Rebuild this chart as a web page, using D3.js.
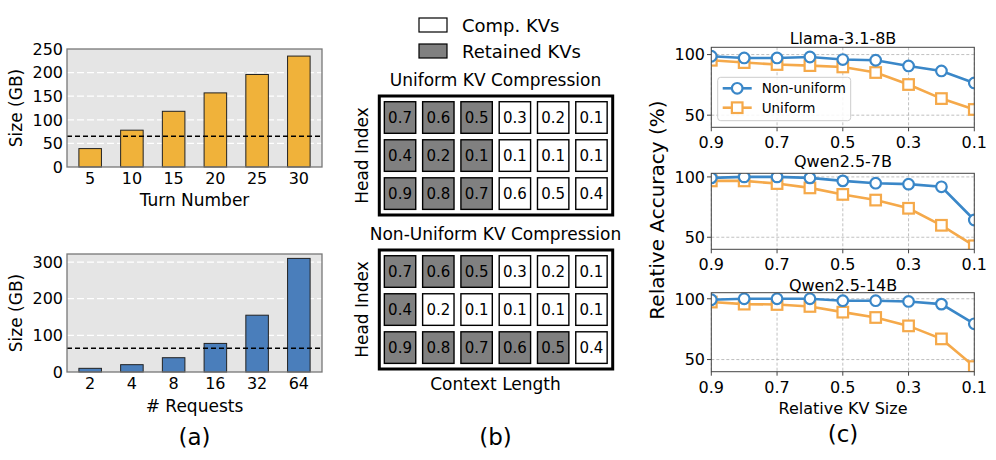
<!DOCTYPE html>
<html>
<head>
<meta charset="utf-8">
<script src="https://cdn.jsdelivr.net/npm/d3@7"></script>
<style>
  body { margin: 0; background: #fff; }
  text { font-family: "DejaVu Sans", sans-serif; fill: #000; }
</style>
</head>
<body>
<script>
// (a) memory footprint
var turns = [5, 10, 15, 20, 25, 30];
var turnSize = [39, 78, 118, 157, 196, 235];
var requests = [2, 4, 8, 16, 32, 64];
var requestSize = [10, 20, 39, 78, 155, 310];
var memLimit = 65;

// (b) head scores, same scores for both, number of retained cells per row differs
var headScores = [
  [0.7, 0.6, 0.5, 0.3, 0.2, 0.1],
  [0.4, 0.2, 0.1, 0.1, 0.1, 0.1],
  [0.9, 0.8, 0.7, 0.6, 0.5, 0.4]
];
var uniformKeep = [3, 3, 3];
var nonUniformKeep = [3, 1, 5];

// (c) accuracy
var kvSizes = [0.9, 0.8, 0.7, 0.6, 0.5, 0.4, 0.3, 0.2, 0.1];
var kvTicks = [0.9, 0.7, 0.5, 0.3, 0.1];
var models = ["Llama-3.1-8B", "Qwen2.5-7B", "Qwen2.5-14B"];
var nonUniformAcc = [
  [98.6, 97.2, 97.2, 98.0, 95.9, 95.3, 90.6, 86.5, 76.6],
  [99.2, 100, 100, 99.2, 96.7, 94.8, 94.0, 91.8, 64.3],
  [99.2, 100, 100, 100, 98.4, 98.4, 97.8, 95.6, 79.4]
];
var uniformAcc = [
  [95.3, 93.4, 91.8, 90.9, 89.8, 85.2, 75.3, 63.7, 54.7],
  [96.7, 96.7, 94.5, 90.9, 85.5, 80.8, 74.0, 59.9, 42.9],
  [97.3, 95.6, 95.3, 93.7, 89.0, 84.6, 77.7, 67.0, 44.2]
];
var accTop = [106, 103, 105];

var svg = d3.select("body").append("svg")
  .attr("width", 996).attr("height", 460);
var defs = svg.append("defs");

var label = (x, y, txt, size, rot) => {
  var t = svg.append("text")
    .attr("text-anchor", "middle")
    .style("font-size", size + "px")
    .text(txt);
  if (rot) t.attr("transform", "translate(" + x + "," + y + ") rotate(-90)");
  else t.attr("x", x).attr("y", y);
  return t;
};

// ---------- (a) ----------
var barPanel = (cats, vals, ymax, yticks, top, bottom, color, xlab, xlabY) => {
  var x = d3.scaleLinear().domain([-0.555, 5.555]).range([67, 322]);
  var y = d3.scaleLinear().domain([0, ymax]).range([bottom, top]);
  var g = svg.append("g");
  g.append("rect").attr("x", 67).attr("y", top)
    .attr("width", 255).attr("height", bottom - top).attr("fill", "#e5e5e5");
  g.selectAll(".grid").data(yticks.filter(d => d > 0 && y(d) > top + 2)).join("line")
    .attr("x1", 67).attr("x2", 322)
    .attr("y1", d => y(d)).attr("y2", d => y(d))
    .attr("stroke", "#fff").attr("stroke-width", 1.3).attr("stroke-dasharray", "7,3");
  g.selectAll(".bar").data(vals).join("rect")
    .attr("x", (d, i) => x(i - 0.27)).attr("width", x(0.27) - x(-0.27))
    .attr("y", d => y(d)).attr("height", d => bottom - y(d))
    .attr("fill", color).attr("stroke", "#222").attr("stroke-width", 1);
  g.append("line").attr("x1", 67).attr("x2", 322)
    .attr("y1", y(memLimit)).attr("y2", y(memLimit))
    .attr("stroke", "#000").attr("stroke-width", 1.5).attr("stroke-dasharray", "5,3");
  g.append("rect").attr("x", 67).attr("y", top)
    .attr("width", 255).attr("height", bottom - top)
    .attr("fill", "none").attr("stroke", "#777").attr("stroke-width", 1.3);
  g.selectAll(".yt").data(yticks).join("text")
    .attr("x", 63).attr("y", d => y(d)).attr("dy", "0.36em")
    .attr("text-anchor", "end").style("font-size", "16px").text(d => d);
  g.selectAll(".xt").data(cats).join("text")
    .attr("x", (d, i) => x(i)).attr("y", bottom + 17)
    .attr("text-anchor", "middle").style("font-size", "16px").text(d => d);
  label(22, (top + bottom) / 2, "Size (GB)", 17, true);
  label(194.5, xlabY, xlab, 17);
};

barPanel(turns, turnSize, 250, [0, 50, 100, 150, 200, 250], 49, 167, "#f0b23a", "Turn Number", 206);
barPanel(requests, requestSize, 322, [0, 100, 200, 300], 254, 372, "#4a7ebb", "# Requests", 412);
label(194.5, 445, "(a)", 23);

// ---------- (b) ----------
svg.append("rect").attr("x", 419).attr("y", 18).attr("width", 28).attr("height", 14)
  .attr("fill", "#fff").attr("stroke", "#000").attr("stroke-width", 1.2);
svg.append("rect").attr("x", 419).attr("y", 44).attr("width", 28).attr("height", 14)
  .attr("fill", "#808080").attr("stroke", "#000").attr("stroke-width", 1.2);
svg.append("text").attr("x", 462).attr("y", 32).style("font-size", "18px").text("Comp. KVs");
svg.append("text").attr("x", 462).attr("y", 58).style("font-size", "18px").text("Retained KVs");

var grid = (keep, top, title, titleY) => {
  var cx = d3.scaleBand().domain(d3.range(6)).range([380.9, 610.6])
    .paddingInner(0.18).paddingOuter(0.09);
  var cy = d3.scaleBand().domain(d3.range(3)).range([top + 2.3, top + 116.8])
    .paddingInner(0.17).paddingOuter(0.09);
  svg.append("rect").attr("x", 379.3).attr("y", top)
    .attr("width", 233.4).attr("height", 119)
    .attr("fill", "#fff").attr("stroke", "#000").attr("stroke-width", 3);
  var cells = [];
  headScores.forEach((row, r) => row.forEach((v, c) => cells.push({ r: r, c: c, v: v, kept: c < keep[r] })));
  var g = svg.append("g");
  g.selectAll("rect").data(cells).join("rect")
    .attr("x", d => cx(d.c)).attr("y", d => cy(d.r))
    .attr("width", cx.bandwidth()).attr("height", cy.bandwidth())
    .attr("fill", d => d.kept ? "#808080" : "#fff")
    .attr("stroke", "#000").attr("stroke-width", 1.4);
  g.selectAll("text").data(cells).join("text")
    .attr("x", d => cx(d.c) + cx.bandwidth() / 2)
    .attr("y", d => cy(d.r) + cy.bandwidth() / 2).attr("dy", "0.36em")
    .attr("text-anchor", "middle").style("font-size", "15px")
    .text(d => d.v.toFixed(1));
  label(367.5, top + 59.5, "Head Index", 17, true);
  label(495.5, titleY, title, 17);
};

grid(uniformKeep, 96, "Uniform KV Compression", 85.5);
grid(nonUniformKeep, 250, "Non-Uniform KV Compression", 239.5);
label(495.5, 389.5, "Context Length", 17);
label(495.5, 445, "(b)", 23);

// ---------- (c) ----------
var blue = "#3a87c8", orange = "#f5a94a";
var x = d3.scaleLinear().domain([0.9, 0.1]).range([711.3, 974.3]);
var panels = [
  { top: 47.3, bottom: 127.3, titleY: 44 },
  { top: 173.3, bottom: 249.3, titleY: 166.5 },
  { top: 292.7, bottom: 371.7, titleY: 290.5 }
];

panels.forEach((p, k) => {
  var y = d3.scaleLinear().domain([40, accTop[k]]).range([p.bottom, p.top]);
  defs.append("clipPath").attr("id", "clip" + k).append("rect")
    .attr("x", 711.3).attr("y", p.top).attr("width", 263).attr("height", p.bottom - p.top);
  var g = svg.append("g");
  g.selectAll(".gx").data(kvTicks).join("line")
    .attr("x1", d => x(d)).attr("x2", d => x(d))
    .attr("y1", p.top).attr("y2", p.bottom)
    .attr("stroke", "#b0b0b0").attr("stroke-width", 0.8).attr("stroke-dasharray", "3,2");
  g.selectAll(".gy").data([50, 100]).join("line")
    .attr("x1", 711.3).attr("x2", 974.3)
    .attr("y1", d => y(d)).attr("y2", d => y(d))
    .attr("stroke", "#b0b0b0").attr("stroke-width", 0.8).attr("stroke-dasharray", "3,2");

  var plot = g.append("g").attr("clip-path", "url(#clip" + k + ")");
  var line = d3.line().x((d, i) => x(kvSizes[i])).y(d => y(d));
  plot.append("path").datum(uniformAcc[k]).attr("d", line)
    .attr("fill", "none").attr("stroke", orange).attr("stroke-width", 2.6);
  plot.selectAll(".sq").data(uniformAcc[k]).join("rect")
    .attr("x", (d, i) => x(kvSizes[i]) - 5.3).attr("y", d => y(d) - 5.3)
    .attr("width", 10.6).attr("height", 10.6)
    .attr("fill", "#fff").attr("stroke", orange).attr("stroke-width", 2.2);
  plot.append("path").datum(nonUniformAcc[k]).attr("d", line)
    .attr("fill", "none").attr("stroke", blue).attr("stroke-width", 2.6);
  plot.selectAll(".ci").data(nonUniformAcc[k]).join("circle")
    .attr("cx", (d, i) => x(kvSizes[i])).attr("cy", d => y(d)).attr("r", 5.3)
    .attr("fill", "#fff").attr("stroke", blue).attr("stroke-width", 2.2);

  g.append("rect").attr("x", 711.3).attr("y", p.top)
    .attr("width", 263).attr("height", p.bottom - p.top)
    .attr("fill", "none").attr("stroke", "#444").attr("stroke-width", 1);
  g.selectAll(".ty").data([50, 100]).join("line")
    .attr("x1", 707).attr("x2", 711.3).attr("y1", d => y(d)).attr("y2", d => y(d))
    .attr("stroke", "#444");
  g.selectAll(".tx").data(kvTicks).join("line")
    .attr("x1", d => x(d)).attr("x2", d => x(d)).attr("y1", p.bottom).attr("y2", p.bottom + 4)
    .attr("stroke", "#444");
  g.selectAll(".ly").data([50, 100]).join("text")
    .attr("x", 705).attr("y", d => y(d)).attr("dy", "0.36em")
    .attr("text-anchor", "end").style("font-size", "16px").text(d => d);
  g.selectAll(".lx").data(kvTicks).join("text")
    .attr("x", d => x(d)).attr("y", p.bottom + 21)
    .attr("text-anchor", "middle").style("font-size", "16px").text(d => d.toFixed(1));
  label(843, p.titleY, models[k], 16);
});

// legend
var lg = svg.append("g");
lg.append("rect").attr("x", 717.7).attr("y", 77.3).attr("width", 133).attr("height", 43.4)
  .attr("rx", 3).attr("fill", "#fff").attr("fill-opacity", 0.85)
  .attr("stroke", "#ccc").attr("stroke-width", 1);
[{ name: "Non-uniform", c: blue, cy: 88.3 }, { name: "Uniform", c: orange, cy: 107.7 }].forEach((d, i) => {
  lg.append("line").attr("x1", 722.7).attr("x2", 751.7).attr("y1", d.cy).attr("y2", d.cy)
    .attr("stroke", d.c).attr("stroke-width", 2.6);
  if (i === 0) lg.append("circle").attr("cx", 737.2).attr("cy", d.cy).attr("r", 5.3)
    .attr("fill", "#fff").attr("stroke", d.c).attr("stroke-width", 2.2);
  else lg.append("rect").attr("x", 731.9).attr("y", d.cy - 5.3).attr("width", 10.6).attr("height", 10.6)
    .attr("fill", "#fff").attr("stroke", d.c).attr("stroke-width", 2.2);
  lg.append("text").attr("x", 761.7).attr("y", d.cy).attr("dy", "0.36em")
    .style("font-size", "13.5px").text(d.name);
});

label(664, 210, "Relative Accuracy (%)", 20, true);
label(843, 414, "Relative KV Size", 16);
label(843, 442, "(c)", 23);
</script>
</body>
</html>
